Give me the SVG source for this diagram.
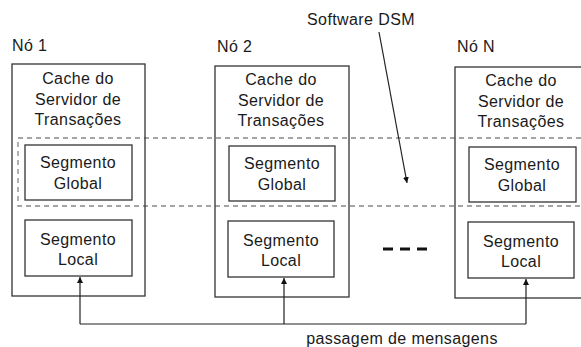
<svg xmlns="http://www.w3.org/2000/svg" width="581" height="347" viewBox="0 0 581 347">
<defs>
<style>
text{font-family:"Liberation Sans",Arial,sans-serif;font-size:16px;fill:#1a1a1a;letter-spacing:0.4px}
.c{text-anchor:middle}
.box{fill:none;stroke:#333;stroke-width:1.3}
.dsm{fill:none;stroke:#888;stroke-width:1.3;stroke-dasharray:5 4}
.ln{fill:none;stroke:#222;stroke-width:1.2}
</style>
<marker id="ah" viewBox="0 0 10 10" refX="10" refY="5" markerWidth="6" markerHeight="8" markerUnits="userSpaceOnUse" orient="auto">
<path d="M0,0 L10,5 L0,10 z" fill="#111"/>
</marker>
</defs>
<rect fill="#fff" width="581" height="347"/>
<g id="dsm">
<rect class="dsm" x="18" y="138" width="580" height="68"/>
<text x="361" y="25" class="c">Software DSM</text>
</g>
<g id="no1">
<text x="12" y="51">Nó 1</text>
<rect class="box" x="12" y="64" width="133" height="232"/>
<text class="c" x="78" y="84">Cache do</text>
<text class="c" x="78" y="104.5">Servidor de</text>
<text class="c" x="78" y="125">Transações</text>
<rect class="box" x="25" y="145" width="107" height="55"/>
<text class="c" x="78" y="168">Segmento</text>
<text class="c" x="78" y="189">Global</text>
<rect class="box" x="25" y="220" width="107" height="56"/>
<text class="c" x="78" y="245">Segmento</text>
<text class="c" x="78" y="265">Local</text>
</g>
<g id="no2">
<text x="217" y="52">Nó 2</text>
<rect class="box" x="215" y="66" width="134" height="231"/>
<text class="c" x="281" y="85">Cache do</text>
<text class="c" x="281" y="105.5">Servidor de</text>
<text class="c" x="281" y="126">Transações</text>
<rect class="box" x="229" y="146" width="106" height="55"/>
<text class="c" x="282" y="169">Segmento</text>
<text class="c" x="282" y="190">Global</text>
<rect class="box" x="228" y="221" width="106" height="56"/>
<text class="c" x="281" y="246">Segmento</text>
<text class="c" x="281" y="266">Local</text>
</g>
<g id="noN">
<text x="457" y="52">Nó N</text>
<rect class="box" x="455" y="67" width="140" height="231"/>
<text class="c" x="521" y="86">Cache do</text>
<text class="c" x="521" y="106.5">Servidor de</text>
<text class="c" x="521" y="127">Transações</text>
<rect class="box" x="469" y="147" width="107" height="55"/>
<text class="c" x="522" y="170">Segmento</text>
<text class="c" x="522" y="191">Global</text>
<rect class="box" x="468" y="222" width="106" height="56"/>
<text class="c" x="521" y="247">Segmento</text>
<text class="c" x="521" y="267">Local</text>
</g>
<g id="ellipsis">
<path d="M383,249 h10 M400,249 h10 M417,249 h10" stroke="#111" stroke-width="3"/>
</g>
<g id="connectors">
<path class="ln" d="M80,324 H526"/>
<path class="ln" d="M80,324 V277" marker-end="url(#ah)"/>
<path class="ln" d="M284,324 V278" marker-end="url(#ah)"/>
<path class="ln" d="M526,324 V279" marker-end="url(#ah)"/>
<path class="ln" d="M379,32 L407,183" marker-end="url(#ah)"/>
<text x="402" y="344" class="c">passagem de mensagens</text>
</g>
</svg>
